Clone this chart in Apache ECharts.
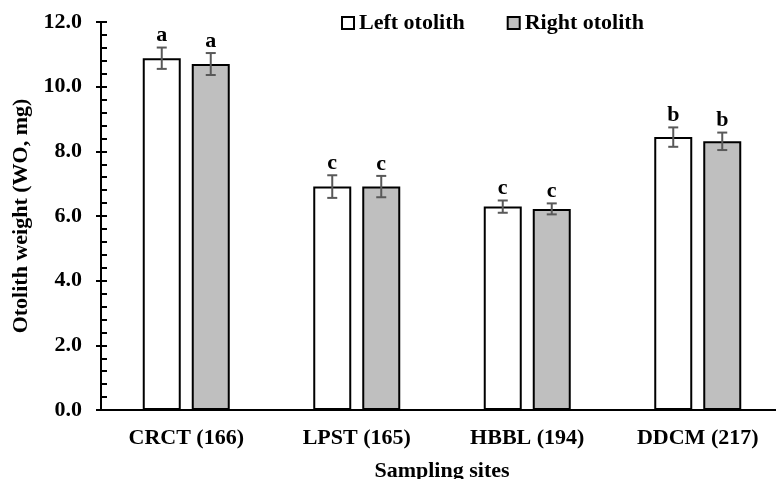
<!DOCTYPE html>
<html>
<head>
<meta charset="utf-8">
<script src="https://cdn.jsdelivr.net/npm/echarts@6/dist/echarts.min.js"></script>
<style>
  html, body { margin: 0; padding: 0; background: #fff; }
  #chart { width: 776px; height: 479px; }
</style>
</head>
<body>
<div id="chart"></div>
<script>
// 数据
const categories = ['CRCT (166)', 'LPST (165)', 'HBBL (194)', 'DDCM (217)'];
const leftValues = [10.88, 6.91, 6.29, 8.44];
const rightValues = [10.70, 6.91, 6.22, 8.31];
const leftErrors = [0.33, 0.35, 0.19, 0.30];
const rightErrors = [0.34, 0.33, 0.17, 0.27];
const leftLetters = ['a', 'c', 'c', 'b'];
const rightLetters = ['a', 'c', 'c', 'b'];

const FONT = "'Liberation Serif', 'Times New Roman', serif";
const BAR_WIDTH = 38;
const BAR_GAP = 11;

/**
 * 误差线 + 显著性字母
 */
function errorSeries(name, values, errors, letters, side) {
  const offset = side * (BAR_WIDTH + BAR_GAP) / 2;
  return {
    name: name + ' error',
    type: 'custom',
    z: 10,
    data: values.map((v, i) => [i, v, errors[i]]),
    renderItem: function (params, api) {
      const idx = api.value(0);
      const v = api.value(1);
      const e = api.value(2);
      const top = api.coord([idx, v + e]);
      const bottom = api.coord([idx, v - e]);
      const x = top[0] + offset;
      const cap = 5;
      const style = { stroke: '#595959', lineWidth: 2 };
      return {
        type: 'group',
        children: [
          { type: 'line', shape: { x1: x, y1: top[1], x2: x, y2: bottom[1] }, style: style },
          { type: 'line', shape: { x1: x - cap, y1: top[1], x2: x + cap, y2: top[1] }, style: style },
          { type: 'line', shape: { x1: x - cap, y1: bottom[1], x2: x + cap, y2: bottom[1] }, style: style },
          {
            type: 'text',
            x: x,
            y: top[1] - 1,
            style: {
              text: letters[params.dataIndex],
              fill: '#000',
              font: 'bold 22px ' + FONT,
              align: 'center',
              verticalAlign: 'bottom'
            }
          }
        ]
      };
    }
  };
}

const chart = echarts.init(document.getElementById('chart'), null, { renderer: 'canvas' });

const option = {
  animation: false,
  textStyle: { fontFamily: FONT },
  grid: {
    left: 101,
    top: 22,
    width: 682,
    height: 388,
    containLabel: false,
    outerBoundsMode: 'none'
  },
  legend: {
    left: 341,
    top: 12,
    padding: 0,
    itemWidth: 12,
    itemHeight: 12,
    itemGap: 42,
    icon: 'rect',
    textStyle: { fontFamily: FONT, fontWeight: 'bold', fontSize: 22, color: '#000' },
    data: ['Left otolith', 'Right otolith']
  },
  xAxis: [
    {
      type: 'category',
      position: 'bottom',
      data: categories,
      name: 'Sampling sites',
      nameLocation: 'middle',
      nameGap: 50,
      nameTextStyle: { fontFamily: FONT, fontWeight: 'bold', fontSize: 22, color: '#000' },
      axisLine: { lineStyle: { color: '#000', width: 2 } },
      axisTick: { length: 5, lineStyle: { color: '#000', width: 2 } },
      axisLabel: { margin: 17, fontFamily: FONT, fontWeight: 'bold', fontSize: 22, color: '#000' }
    },
    {
      type: 'category',
      position: 'bottom',
      data: categories,
      axisLine: { show: false },
      axisTick: { inside: true, alignWithLabel: true, length: 5, lineStyle: { color: '#000', width: 2 } },
      axisLabel: { show: false }
    }
  ],
  yAxis: [
    {
      type: 'value',
      position: 'left',
      min: 0,
      max: 12,
      interval: 2,
      name: 'Otolith weight (WO, mg)',
      nameLocation: 'middle',
      nameGap: 67,
      nameTextStyle: { fontFamily: FONT, fontWeight: 'bold', fontSize: 22, color: '#000' },
      axisLine: { show: true, lineStyle: { color: '#000', width: 2 } },
      axisTick: { show: true, inside: true, length: 6, lineStyle: { color: '#000', width: 2 } },
      minorTick: { show: true, splitNumber: 5, length: 6, lineStyle: { color: '#000', width: 2 } },
      splitLine: { show: false },
      axisLabel: {
        margin: 19,
        fontFamily: FONT,
        fontWeight: 'bold',
        fontSize: 22,
        color: '#000',
        formatter: v => v.toFixed(1)
      }
    },
    {
      type: 'value',
      position: 'left',
      min: 0,
      max: 12,
      interval: 2,
      axisLine: { show: false },
      axisTick: { show: true, length: 5, lineStyle: { color: '#000', width: 2 } },
      splitLine: { show: false },
      axisLabel: { show: false }
    }
  ],
  series: [
    {
      name: 'Left otolith',
      type: 'bar',
      data: leftValues,
      barWidth: BAR_WIDTH,
      barGap: (BAR_GAP / BAR_WIDTH * 100) + '%',
      itemStyle: { color: '#ffffff', borderColor: '#000', borderWidth: 2 }
    },
    {
      name: 'Right otolith',
      type: 'bar',
      data: rightValues,
      barWidth: BAR_WIDTH,
      barGap: (BAR_GAP / BAR_WIDTH * 100) + '%',
      itemStyle: { color: '#bfbfbf', borderColor: '#000', borderWidth: 2 }
    },
    errorSeries('Left otolith', leftValues, leftErrors, leftLetters, -1),
    errorSeries('Right otolith', rightValues, rightErrors, rightLetters, 1)
  ]
};

chart.setOption(option);
</script>
</body>
</html>
